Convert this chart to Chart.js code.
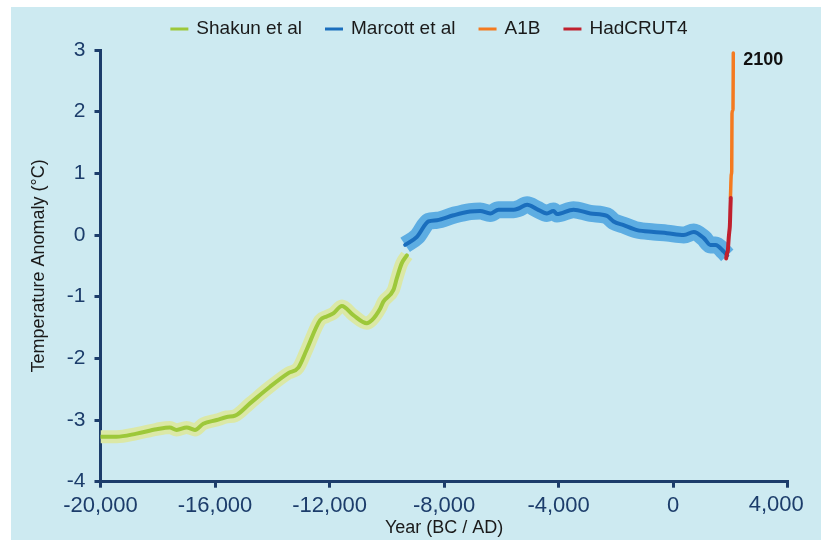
<!DOCTYPE html>
<html>
<head>
<meta charset="utf-8">
<script src="https://cdn.jsdelivr.net/npm/chart.js@4.4.1/dist/chart.umd.min.js"></script>
<style>
  html, body { margin: 0; padding: 0; background: #ffffff; }
  #panel { position: absolute; left: 11px; top: 7px; width: 810px; height: 533px; background: #cdeaf1; }
  canvas { display: block; }
</style>
</head>
<body>
<div id="panel"><canvas id="chart" width="810" height="533"></canvas></div>
<script>
// Temperature reconstructions and projection (year BC/AD, anomaly in °C)
const shakunYears = [-20000, -19440, -18740, -18040, -17580, -17340, -16990, -16700, -16410, -15940,
                     -15590, -15300, -14780, -14080, -13440, -13090, -12800, -12330, -12100, -11870,
                     -11570, -11170, -10700, -10520, -10230, -10120, -9770, -9650, -9480, -9300];
const shakunTemps = [-3.27, -3.27, -3.22, -3.15, -3.12, -3.16, -3.12, -3.16, -3.06, -3.00,
                     -2.95, -2.93, -2.73, -2.46, -2.24, -2.15, -1.86, -1.38, -1.32, -1.27,
                     -1.15, -1.30, -1.43, -1.38, -1.19, -1.08, -0.89, -0.70, -0.46, -0.33];

const marcottYears = [-9360, -8950, -8545, -8250, -7670, -7090, -6740, -6390, -6100, -5570,
                      -5400, -5100, -4760, -4410, -4180, -4060, -3480, -2890, -2310, -2080,
                      -1730, -1260, -680, -210, 370, 720, 1070, 1300, 1480, 1770, 1890];
const marcottTemps = [-0.16, -0.03, 0.22, 0.24, 0.32, 0.38, 0.39, 0.35, 0.41, 0.41,
                      0.43, 0.49, 0.42, 0.35, 0.39, 0.34, 0.41, 0.35, 0.31, 0.22,
                      0.16, 0.08, 0.05, 0.03, 0.00, 0.05, -0.05, -0.16, -0.16, -0.27, -0.33];

const hadcrutYears = [1850, 1880, 1910, 1940, 1960, 1980, 2000, 2012];
const hadcrutTemps = [-0.38, -0.30, -0.25, -0.05, 0.05, 0.15, 0.45, 0.60];

const a1bYears = [2000, 2030, 2045, 2055, 2080, 2090, 2100];
const a1bTemps = [0.60, 0.98, 1.03, 1.97, 2.02, 2.05, 2.95];

const xTickValues = [-20000, -16000, -12000, -8000, -4000, 0, 4000];
const xTickLabels = ['-20,000', '-16,000', '-12,000', '-8,000', '-4,000', '0', '4,000'];
const yTickValues = [-4, -3, -2, -1, 0, 1, 2, 3];
const yTickLabels = ['-4', '-3', '-2', '-1', '0', '1', '2', '3'];

const seriesNames = ['Shakun et al', 'Marcott et al', 'A1B', 'HadCRUT4'];
const endLabel = '2100';

const NAVY = '#1c3d6b';
const FONT = "'Liberation Sans', Arial, Helvetica, sans-serif";
const GREEN = '#9dc83a', GREEN_BAND = '#dbe8a6';
const BLUE = '#1a6ebd', BLUE_BAND = '#5dade2';
const ORANGE = '#f47a20', RED = '#c0202e';

const pts = (xs, ys) => xs.map((x, i) => ({ x: x, y: ys[i] }));

function lineSet(label, xs, ys, color, width, order) {
  return {
    label: label, data: pts(xs, ys), borderColor: color, backgroundColor: color,
    borderWidth: width, pointRadius: 0, fill: false, tension: 0.3,
    cubicInterpolationMode: 'monotone', borderJoinStyle: 'round', borderCapStyle: 'round',
    order: order, showInLegend: true
  };
}
function bandSet(xs, ys, color, width) {
  return {
    label: '', data: pts(xs, ys), borderColor: color, backgroundColor: color,
    borderWidth: width, pointRadius: 0, fill: false, tension: 0.3,
    cubicInterpolationMode: 'monotone', borderJoinStyle: 'round', borderCapStyle: 'butt',
    order: 20, showInLegend: false
  };
}

// Legend row drawn across the top of the panel
const LEGEND_CX = 418, LEGEND_Y = 22;
const topLegend = {
  id: 'topLegend',
  afterDraw(chart) {
    const ctx = chart.ctx;
    const items = chart.data.datasets.filter(d => d.showInLegend);
    ctx.save();
    ctx.font = '19px ' + FONT;
    ctx.textBaseline = 'middle';
    ctx.textAlign = 'left';
    const sw = 18, gap = 8, itemGap = 23;
    const widths = items.map(d => sw + gap + ctx.measureText(d.label).width);
    const total = widths.reduce((a, b) => a + b, 0) + itemGap * (items.length - 1);
    let x = LEGEND_CX - total / 2;
    items.forEach((d, i) => {
      ctx.fillStyle = d.borderColor;
      ctx.fillRect(x, LEGEND_Y - 1.5, sw, 3);
      ctx.fillStyle = '#1a1a1a';
      ctx.fillText(d.label, x + sw + gap, LEGEND_Y);
      x += widths[i] + itemGap;
    });
    ctx.restore();
  }
};

// Last x tick label sits slightly inside the axis end; end-of-projection label
const extras = {
  id: 'extras',
  afterDraw(chart) {
    const ctx = chart.ctx;
    const xs = chart.scales.x, ys = chart.scales.y;
    ctx.save();
    ctx.font = '22px ' + FONT;
    ctx.fillStyle = NAVY;
    ctx.textAlign = 'center';
    ctx.textBaseline = 'middle';
    const last = xTickValues.length - 1;
    ctx.fillText(xTickLabels[last], xs.getPixelForValue(xTickValues[last]) - 11.5, ys.bottom + 23.5);

    ctx.font = 'bold 18px ' + FONT;
    ctx.fillStyle = '#111111';
    ctx.textAlign = 'left';
    const lx = xs.getPixelForValue(a1bYears[a1bYears.length - 1]);
    const ly = ys.getPixelForValue(a1bTemps[a1bTemps.length - 1]);
    ctx.fillText(endLabel, lx + 10, ly + 7);
    ctx.restore();
  }
};

new Chart(document.getElementById('chart'), {
  type: 'line',
  data: {
    datasets: [
      lineSet(seriesNames[0], shakunYears, shakunTemps, GREEN, 4, 4),
      lineSet(seriesNames[1], marcottYears, marcottTemps, BLUE, 4, 3),
      lineSet(seriesNames[2], a1bYears, a1bTemps, ORANGE, 3.5, 2),
      lineSet(seriesNames[3], hadcrutYears, hadcrutTemps, RED, 4, 1),
      bandSet(shakunYears, shakunTemps, GREEN_BAND, 13),
      bandSet(marcottYears, marcottTemps, BLUE_BAND, 17)
    ]
  },
  options: {
    responsive: false,
    animation: false,
    devicePixelRatio: 1,
    layout: { padding: { top: 43, right: 33.3, left: 0, bottom: 0 } },
    plugins: { legend: { display: false }, tooltip: { enabled: false } },
    scales: {
      x: {
        type: 'linear', min: -20000, max: 4000,
        afterFit: s => { s.height = 58.3; },
        afterBuildTicks: s => { s.ticks = xTickValues.map(v => ({ value: v })); },
        ticks: {
          padding: 5, color: NAVY, maxRotation: 0, autoSkip: false,
          font: { family: FONT, size: 22 },
          callback: (v) => { const i = xTickValues.indexOf(v); return i === xTickValues.length - 1 ? '' : xTickLabels[i]; }
        },
        grid: { drawOnChartArea: false, drawTicks: true, tickLength: 6, color: NAVY, lineWidth: 3 },
        border: { display: true, color: NAVY, width: 3 },
        title: { display: true, text: 'Year (BC / AD)', color: '#1a1a1a',
                 font: { family: FONT, size: 18 }, padding: { top: 0, bottom: 1 } }
      },
      y: {
        min: -4, max: 3,
        afterFit: s => { s.width = 89.5; },
        afterBuildTicks: s => { s.ticks = yTickValues.map(v => ({ value: v })); },
        ticks: {
          padding: 9, color: NAVY, autoSkip: false,
          font: { family: FONT, size: 21 },
          callback: (v) => yTickLabels[yTickValues.indexOf(v)]
        },
        grid: { drawOnChartArea: false, drawTicks: true, tickLength: 6, color: NAVY, lineWidth: 3 },
        border: { display: true, color: NAVY, width: 3 },
        title: { display: true, text: 'Temperature Anomaly (°C)', color: '#1a1a1a',
                 font: { family: FONT, size: 18 }, padding: { top: 17.5, bottom: 0 } }
      }
    }
  },
  plugins: [topLegend, extras]
});
</script>
</body>
</html>
